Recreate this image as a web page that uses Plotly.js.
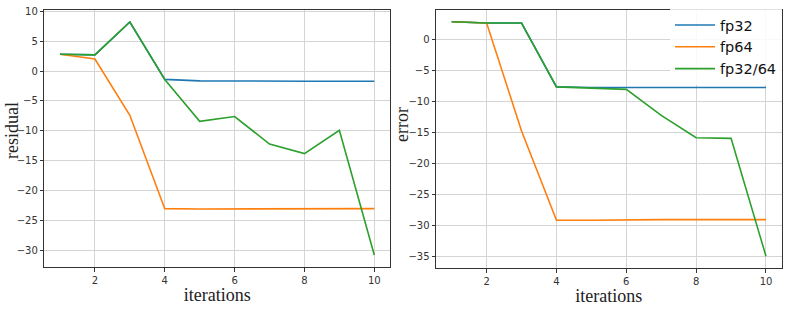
<!DOCTYPE html>
<html>
<head>
<meta charset="utf-8">
<script src="https://cdn.plot.ly/plotly-3.0.1.min.js"></script>
<style>html,body{margin:0;padding:0;background:#fff}#chart{width:785px;height:315px}</style>
</head>
<body>
<div id="chart"></div>
<script>
const iterations = [1,2,3,4,5,6,7,8,9,10];
const residualFp32 = [2.8, 2.7, 8.2, -1.4, -1.65, -1.7, -1.7, -1.7, -1.7, -1.7];
const residualFp64 = [2.8, 2.0, -7.4, -23.0, -23.05, -23.05, -23.05, -23.0, -23.0, -23.0];
const residualMixed = [2.8, 2.7, 8.2, -1.4, -8.4, -7.6, -12.2, -13.8, -9.9, -30.75];
const errorFp32 = [2.8, 2.6, 2.6, -7.7, -7.8, -7.8, -7.8, -7.8, -7.8, -7.8];
const errorFp64 = [2.8, 2.6, -14.8, -29.2, -29.2, -29.1, -29.1, -29.1, -29.1, -29.1];
const errorMixed = [2.8, 2.6, 2.6, -7.7, -7.9, -8.1, -12.3, -15.9, -16.0, -35.0];
const seriesNames = ['fp32', 'fp64', 'fp32/64'];
const colors = ['#1f77b4', '#ff7f0e', '#2ca02c'];
const xTicks = [2,4,6,8,10];
const resTicks = [10,5,0,-5,-10,-15,-20,-25,-30];
const errTicks = [0,-5,-10,-15,-20,-25,-30,-35];
const xTitle = 'iterations';
const yTitles = ['residual', 'error'];

const W = 785, H = 315;
function mk(x, y, i, xa, ya, show) {
  return {x: x, y: y, type: 'scatter', mode: 'lines', name: seriesNames[i],
    xaxis: xa, yaxis: ya, showlegend: show,
    line: {color: colors[i], width: 1.6}};
}
const traces = [
  mk(iterations, residualFp32, 0, 'x', 'y', false),
  mk(iterations, residualFp64, 1, 'x', 'y', false),
  mk(iterations, residualMixed, 2, 'x', 'y', false),
  mk(iterations, errorFp32, 0, 'x2', 'y2', true),
  mk(iterations, errorFp64, 1, 'x2', 'y2', true),
  mk(iterations, errorMixed, 2, 'x2', 'y2', true)
];
const tickFont = {family: 'DejaVu Sans, sans-serif', size: 10, color: '#333'};
const titleFont = {family: 'Liberation Serif, serif', size: 18, color: '#222'};
function xax(dom, anchor) {
  return {domain: dom, anchor: anchor, range: [0.55, 10.45], tickvals: xTicks,
    showgrid: true, gridcolor: '#d4d4d4', gridwidth: 1, zeroline: false,
    showline: true, linecolor: '#333', linewidth: 1, mirror: true,
    ticks: 'outside', ticklen: 3.5, tickcolor: '#333', tickfont: tickFont,
    title: {text: xTitle, font: titleFont, standoff: 0}};
}
function yax(dom, anchor, range, tv) {
  return {domain: dom, anchor: anchor, range: range, tickvals: tv,
    showgrid: true, gridcolor: '#d4d4d4', gridwidth: 1, zeroline: false,
    showline: true, linecolor: '#333', linewidth: 1, mirror: true,
    ticks: 'outside', ticklen: 3.5, tickcolor: '#333', tickfont: tickFont};
}
const layout = {
  width: W, height: H,
  margin: {l: 0, r: 0, t: 0, b: 0},
  paper_bgcolor: '#fff', plot_bgcolor: '#fff',
  xaxis: xax([44.3/W, 390/W], 'y'),
  yaxis: yax([1-267/H, 1-10/H], 'x', [-32.75, 10.2], resTicks),
  xaxis2: xax([436/W, 781.7/W], 'y2'),
  yaxis2: yax([1-268/H, 1-10/H], 'x2', [-36.9, 4.7], errTicks),
  annotations: [
    {text: yTitles[0], xref: 'paper', yref: 'paper', x: 12/W, y: 1-131/H,
      xanchor: 'center', yanchor: 'middle', textangle: -90, showarrow: false, font: titleFont},
    {text: yTitles[1], xref: 'paper', yref: 'paper', x: 402/W, y: 1-125/H,
      xanchor: 'center', yanchor: 'middle', textangle: -90, showarrow: false, font: titleFont}
  ],
  showlegend: true,
  legend: {x: 670/W, y: 1-9/H, xanchor: 'left', yanchor: 'top',
    bgcolor: 'rgba(255,255,255,0.85)', borderwidth: 0, itemwidth: 40,
    font: {family: 'DejaVu Sans, sans-serif', size: 14.5, color: '#111'},
    tracegroupgap: 0}
};
Plotly.newPlot('chart', traces, layout, {staticPlot: true, displayModeBar: false});
</script>
</body>
</html>
